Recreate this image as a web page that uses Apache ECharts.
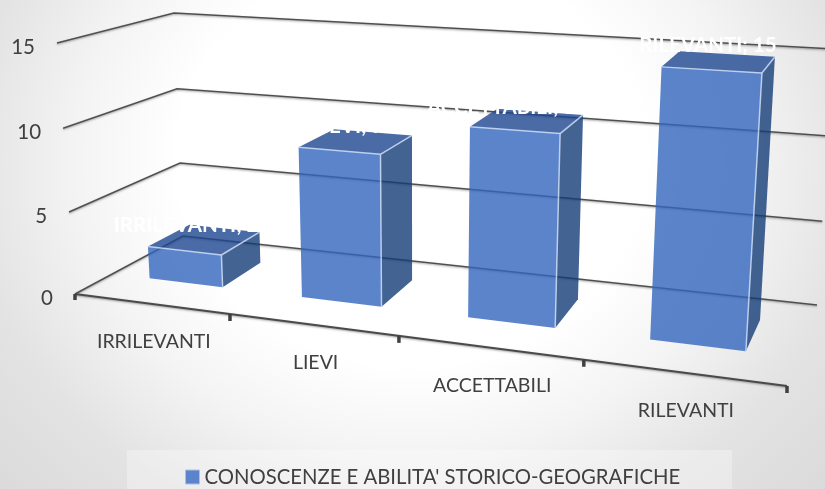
<!DOCTYPE html>
<html>
<head>
<meta charset="utf-8">
<style>
  html, body { margin: 0; padding: 0; }
  body { background: radial-gradient(ellipse 75% 110% at 50% 33%, #fff 38%, #f4f4f4 54%, #e3e3e3 72%, #d6d6d6 100%); }
  #chart { width: 825px; height: 489px; }
</style>
<script src="https://cdn.jsdelivr.net/npm/echarts@6/dist/echarts.min.js"></script>
</head>
<body>
<div id="chart"></div>
<script>
const categories = ['IRRILEVANTI', 'LIEVI', 'ACCETTABILI', 'RILEVANTI'];
const values = [2, 9, 11, 15];
const yTicks = [0, 5, 10, 15];
const seriesName = "CONOSCENZE E ABILITA' STORICO-GEOGRAFICHE";

// Box corners of the 3D scene on screen: front/back, left/right, bottom/top
const FLB = [75, 294], FRB = [787, 386], BLB = [183, 236], BRB = [817, 305];
const FLT = [57, 43], FRT = [807, 91], BLT = [174, 13], BRT = [833, 49];
const PERSPECTIVE = 1.198;     // how much the far-left categories get squeezed
const PERSPECTIVE_V = 1.03;    // same thing on the value direction, very slight
const BAR_WIDTH = 0.49;        // share of a category band
const BAR_Z = [0.35, 0.745];   // depth range of the bars inside the box
const FONT = 'Lato, sans-serif';
const labelNudge = [[-18, -14], [-8, -15], [-20, -14], [-11, -17]];

function lerp(a, b, t) {
    return [a[0] + (b[0] - a[0]) * t, a[1] + (b[1] - a[1]) * t];
}

// u, v, z all 0..1 -> screen point
function project(u, v, z) {
    const s = u / (u + (1 - u) * PERSPECTIVE);
    const h = v / (v + (1 - v) * PERSPECTIVE_V);
    const bottom = lerp(lerp(FLB, FRB, s), lerp(BLB, BRB, s), z);
    const top = lerp(lerp(FLT, FRT, s), lerp(BLT, BRT, s), z);
    return lerp(bottom, top, h);
}

function line(points, color, width, shadow) {
    return {
        type: 'polyline',
        shape: { points: points },
        style: { stroke: color, lineWidth: width, fill: null, shadowColor: shadow || 'transparent', shadowBlur: shadow ? 2 : 0, shadowOffsetY: shadow ? 1 : 0 },
        silent: true
    };
}

function text(str, x, y, fontStyle, fill, align) {
    return { type: 'text', silent: true, style: { x: x, y: y, text: str, font: fontStyle, fill: fill, align: align, verticalAlign: 'middle' } };
}

function renderGridline(params, api) {
    const H = api.getHeight();
    const v = (H - api.coord([0, api.value(1)])[1]) / H;
    const a = project(0, v, 0), b = project(0, v, 1), c = project(1, v, 1);
    return {
        type: 'group',
        children: [
            line([a, b, c], '#4f4f4f', 1.5, 'rgba(90,90,90,0.55)'),
            text(String(api.value(1)), a[0] - 22, a[1] + 4, '20.5px ' + FONT, '#404040', 'right')
        ]
    };
}

function renderCategoryAxis(params, api) {
    const W = api.getWidth();
    const i = api.value(0);
    const band = api.size([1, 0])[0];
    const cx = api.coord([i, 0])[0];
    const right = project((cx + band / 2) / W, 0, 0);
    const mid = project(cx / W, 0, 0);
    const children = [
        line([right, [right[0], right[1] + 7]], '#404040', 3.5),
        text(categories[i], mid[0] + 3, mid[1] + 38, '19.5px ' + FONT, '#404040', 'center')
    ];
    if (i === 0) {
        const start = project(0, 0, 0), end = project(1, 0, 0);
        children.unshift(line([start, end], '#4a4a4a', 2.2, 'rgba(80,80,80,0.5)'));
        children.push(line([start, [start[0], start[1] + 6]], '#404040', 3.5));
    }
    return { type: 'group', children: children };
}

function face(points, color) {
    return { type: 'polygon', shape: { points: points }, silent: true, style: { fill: color, opacity: 0.8 } };
}

function renderBar(params, api) {
    const W = api.getWidth(), H = api.getHeight();
    const i = api.value(0);
    const pos = api.coord([i, api.value(1)]);
    const half = api.size([1, 0])[0] * BAR_WIDTH / 2;
    const u0 = (pos[0] - half) / W, u1 = (pos[0] + half) / W;
    const v = (H - pos[1]) / H;
    const z0 = BAR_Z[0], z1 = BAR_Z[1];
    const ftl = project(u0, v, z0), ftr = project(u1, v, z0);
    const fbl = project(u0, 0, z0), fbr = project(u1, 0, z0);
    const btl = project(u0, v, z1), btr = project(u1, v, z1), bbr = project(u1, 0, z1);
    const edge = 'rgba(205,220,245,0.85)';
    const nudge = labelNudge[i];
    const topMid = project((u0 + u1) / 2, v, (z0 + z1) / 2);
    return {
        type: 'group',
        children: [
            face([ftl, ftr, fbr, fbl], '#3265BE'),
            face([ftr, btr, bbr, fbr], '#143C78'),
            face([ftl, btl, btr, ftr], '#1D468E'),
            line([ftl, ftr], edge, 1.5),
            line([ftr, fbr], edge, 1.5),
            line([ftr, btr], edge, 1.5),
            text(categories[i] + '; ' + api.value(1), topMid[0] + nudge[0], topMid[1] + nudge[1], 'bold 20.5px ' + FONT, '#ffffff', 'center')
        ]
    };
}

const chart = echarts.init(document.getElementById('chart'));

chart.setOption({
    animation: false,
    backgroundColor: 'transparent',
    grid: { left: 0, right: 0, top: 0, bottom: 0 },
    xAxis: { type: 'category', data: categories, show: false },
    yAxis: { type: 'value', min: 0, max: 15, interval: 5, show: false },
    legend: {
        left: 185,
        top: 467,
        itemWidth: 14,
        itemHeight: 14,
        itemGap: 0,
        padding: 0,
        data: [{ name: seriesName, icon: 'rect', itemStyle: { color: '#5B84CB', borderColor: '#A9C0E8', borderWidth: 1 } }],
        textStyle: { fontFamily: 'Lato', fontSize: 20.3, color: '#404040', padding: 0 }
    },
    graphic: [{
        type: 'rect',
        z: -1,
        silent: true,
        shape: { x: 127, y: 450, width: 605, height: 39 },
        style: { fill: 'rgba(255,255,255,0.3)' }
    }],
    series: [
        {
            type: 'custom',
            name: 'griglia',
            z: 1,
            silent: true,
            renderItem: renderGridline,
            data: yTicks.map(v => [0, v])
        },
        {
            type: 'custom',
            name: 'asse',
            z: 2,
            silent: true,
            renderItem: renderCategoryAxis,
            data: categories.map((c, i) => [i, 0])
        },
        {
            type: 'custom',
            name: seriesName,
            z: 3,
            silent: true,
            itemStyle: { color: '#5B84CB' },
            renderItem: renderBar,
            data: values.map((v, i) => [i, v])
        }
    ]
});
</script>
</body>
</html>
